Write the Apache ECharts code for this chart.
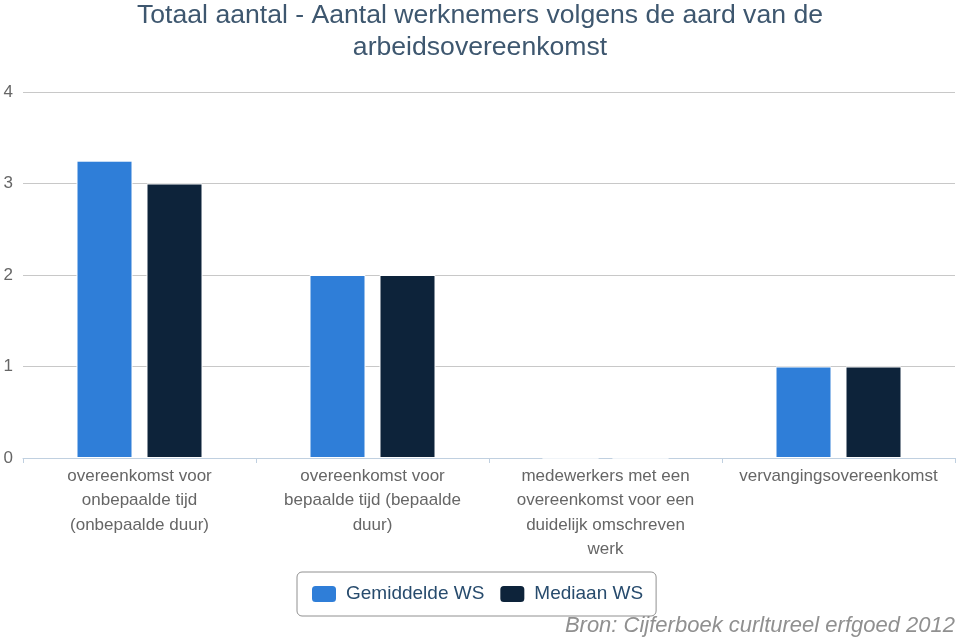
<!DOCTYPE html>
<html><head><meta charset="utf-8">
<script src="https://cdn.jsdelivr.net/npm/echarts@6/dist/echarts.min.js"></script>
<style>html,body{margin:0;padding:0;background:#fff}#c{width:960px;height:638px}</style>
</head><body><div id="c"></div>
<script>
var titleText = 'Totaal aantal - Aantal werknemers volgens de aard van de\narbeidsovereenkomst';
var categories = [
  'overeenkomst voor\nonbepaalde tijd\n(onbepaalde duur)',
  'overeenkomst voor\nbepaalde tijd (bepaalde\nduur)',
  'medewerkers met een\novereenkomst voor een\nduidelijk omschreven\nwerk',
  'vervangingsovereenkomst'
];
var seriesNames = ['Gemiddelde WS', 'Mediaan WS'];
var gemiddelde = [3.25, 2, 0, 1];
var mediaan = [3, 2, 0, 1];
var yTicks = [0, 1, 2, 3, 4];
var creditText = 'Bron: Cijferboek curltureel erfgoed 2012';

var chart = echarts.init(document.getElementById('c'), null, {renderer: 'canvas'});
var font = 'Liberation Sans, Arial, Helvetica, sans-serif';
chart.setOption({
  animation: false,
  textStyle: {fontFamily: font},
  title: {
    text: titleText, left: 'center', top: -5,
    textStyle: {fontFamily: font, fontSize: 26.6, fontWeight: 'normal', color: '#3E576F', lineHeight: 32}
  },
  grid: {left: 23, right: 5, top: 92, bottom: 180, containLabel: false},
  legend: {
    left: 297, top: 572,
    padding: [12, 13, 12, 13],
    borderColor: '#909090', borderWidth: 1, borderRadius: 5,
    itemWidth: 26, itemHeight: 18, itemGap: 14,
    icon: 'roundRect',
    textStyle: {fontFamily: font, fontSize: 19, color: '#274b6d', padding: [0, 0, 0, 4]},
    data: seriesNames
  },
  xAxis: {
    type: 'category', data: categories,
    axisLine: {lineStyle: {color: '#C0D0E0'}},
    axisTick: {show: true, length: 5, lineStyle: {color: '#C0D0E0'}},
    axisLabel: {fontFamily: font, fontSize: 17, color: '#666666', lineHeight: 24.5, margin: 6, interval: 0}
  },
  yAxis: {
    type: 'value', min: yTicks[0], max: yTicks[yTicks.length - 1], interval: 1,
    axisLine: {show: false}, axisTick: {show: false},
    splitLine: {lineStyle: {color: '#C8C8C8', width: 1}},
    axisLabel: {fontFamily: font, fontSize: 17, color: '#666666', margin: 10}
  },
  series: [
    {name: seriesNames[0], type: 'bar', data: gemiddelde, barWidth: 56, barGap: '25%',
     itemStyle: {color: '#2f7ed8', borderColor: '#ffffff', borderWidth: 1}},
    {name: seriesNames[1], type: 'bar', data: mediaan, barWidth: 56, barGap: '25%',
     itemStyle: {color: '#0d233a', borderColor: '#ffffff', borderWidth: 1}}
  ],
  graphic: [{
    type: 'text', right: 5, bottom: 1,
    style: {text: creditText, font: 'italic 22px ' + font, fill: '#909090'}
  }]
});
</script></body></html>
